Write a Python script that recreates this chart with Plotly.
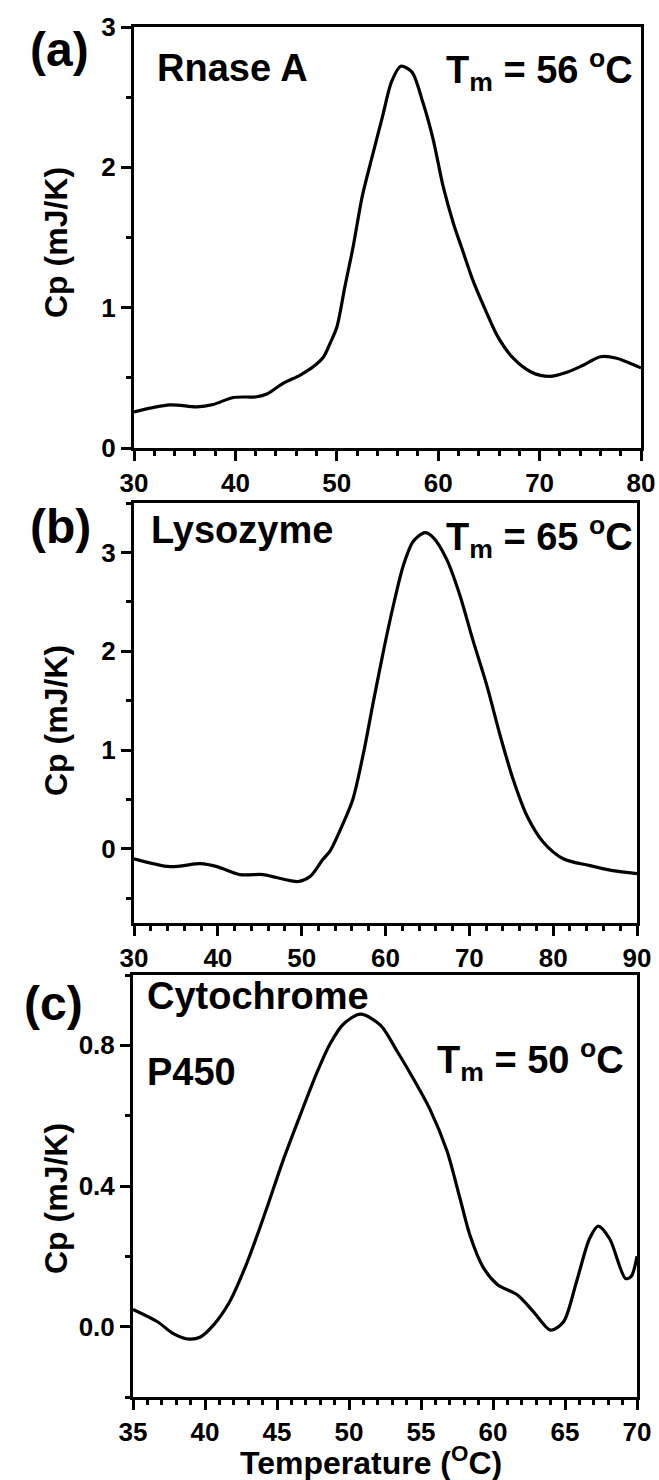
import plotly.graph_objects as go

# ---- data ----
a_temp = [30, 33.5, 36.2, 37.8, 39.8, 42.1, 43.1, 44.7, 46.4, 47.7, 48.7, 49.3, 50.0, 50.8, 51.6,
          52.5, 53.5, 54.5, 55.4, 56.3, 57.4, 58.5, 59.5, 60.5, 61.5, 62.3, 63.5, 64.8, 65.9,
          67.4, 69.2, 71.0, 72.7, 74.3, 76.0, 77.6, 79.7, 80]
a_cp = [0.257, 0.307, 0.293, 0.31, 0.36, 0.365, 0.385, 0.46, 0.52, 0.58, 0.65, 0.74, 0.86, 1.15, 1.43,
        1.79, 2.08, 2.36, 2.61, 2.72, 2.68, 2.46, 2.2, 1.86, 1.6, 1.43, 1.18, 0.96, 0.79,
        0.64, 0.54, 0.51, 0.54, 0.59, 0.65, 0.64, 0.58, 0.57]

b_temp = [30, 34.3, 37.9, 39.9, 42.6, 45.4, 47.0, 49.6, 51.0, 52.5, 53.4, 54.8, 56.1, 57.4, 58.6, 59.8,
          60.9, 62.1, 63.3, 64.7, 65.7, 67.3, 68.9, 70.4, 72.1, 73.7, 75.2, 76.9, 78.8, 81.2,
          84.4, 87.1, 90]
b_cp = [-0.10, -0.18, -0.15, -0.18, -0.26, -0.26, -0.29, -0.33, -0.28, -0.11, -0.02, 0.23, 0.5, 0.98, 1.51, 2.02,
        2.45, 2.86, 3.11, 3.20, 3.15, 2.93, 2.56, 2.12, 1.65, 1.14, 0.71, 0.33, 0.07, -0.10,
        -0.17, -0.22, -0.25]

c_temp = [35, 36.7, 37.8, 38.8, 39.65, 40.6, 41.7, 42.9, 43.8, 44.4, 45.4, 46.6, 47.8, 48.7, 49.6,
          50.8, 52.2, 53.3, 54.4, 55.6, 56.8, 57.7, 58.4, 59.3, 60.3, 61.7, 62.8, 64.0, 64.9,
          65.8, 66.7, 67.3, 68.1, 69.2, 69.6, 70]
c_cp = [0.049, 0.014, -0.02, -0.035, -0.03, 0.005, 0.07, 0.18, 0.28, 0.35, 0.47, 0.6, 0.725, 0.805, 0.86,
        0.889, 0.857, 0.786, 0.71, 0.62, 0.50, 0.366, 0.26, 0.17, 0.12, 0.09, 0.043, -0.01, 0.014,
        0.128, 0.25, 0.286, 0.25, 0.137, 0.143, 0.2]

W, H = 659, 1480
FONT = "Liberation Sans, Arial, sans-serif"


def px_x(p):
    return p / W


def px_y(p):
    return 1 - p / H


fig = go.Figure()
for i, (xs, ys) in enumerate([(a_temp, a_cp), (b_temp, b_cp), (c_temp, c_cp)], start=1):
    fig.add_trace(go.Scatter(x=xs, y=ys, mode="lines",
                             line=dict(color="black", width=3.2, shape="spline", smoothing=0.8),
                             xaxis=f"x{i}" if i > 1 else "x", yaxis=f"y{i}" if i > 1 else "y",
                             showlegend=False, hoverinfo="skip"))

common = dict(showline=True, linecolor="black", linewidth=3, mirror=True, showgrid=False,
              zeroline=False, ticks="outside", ticklen=10, tickwidth=3, tickcolor="black",
              automargin=False,
              tickfont=dict(family=FONT, size=26, color="black", weight="bold"))


def minor(d):
    return dict(ticks="outside", ticklen=5, tickwidth=2.5, tickcolor="black", dtick=d, showgrid=False)


panels = [
    ((134, 641), (27, 448), [30, 80], 10, 2, [0, 3], [0, 1, 2, 3], 0.5, "d"),
    ((134, 637), (503, 923), [30, 90], 10, 2, [-0.75, 3.5], [0, 1, 2, 3], 0.5, "d"),
    ((133, 637), (975, 1397), [35, 70], 5, 1, [-0.2, 1.0], [0.0, 0.4, 0.8], 0.2, ".1f"),
]

layout = {}
for i, (xd, yd, xr, xdt, xmn, yr, ytv, ymn, yfmt) in enumerate(panels, start=1):
    sx = "" if i == 1 else str(i)
    layout[f"xaxis{sx}"] = dict(common, domain=[px_x(xd[0]), px_x(xd[1])], range=xr,
                                dtick=xdt, tick0=0, minor=minor(xmn),
                                anchor=f"y{sx}")
    layout[f"yaxis{sx}"] = dict(common, domain=[px_y(yd[1]), px_y(yd[0])], range=yr,
                                tickvals=ytv, tickformat=yfmt, minor=dict(minor(ymn), tick0=0),
                                anchor=f"x{sx}")

fig.update_layout(**layout)


def ann(text, x, y, size, xanchor="left", yanchor="middle", angle=0):
    fig.add_annotation(text=text, x=px_x(x), y=px_y(y), xref="paper", yref="paper",
                       xanchor=xanchor, yanchor=yanchor, showarrow=False, textangle=angle,
                       font=dict(family=FONT, size=size, color="black", weight="bold"))


ann("(a)", 28, 50, 48)
ann("(b)", 28, 526, 48)
ann("(c)", 22, 1003, 48)

ann("Rnase A", 155, 68, 38)
ann("T<sub>m</sub> = 56 <sup>o</sup>C", 635, 70, 38, xanchor="right")
ann("Lysozyme", 149, 530, 38)
ann("T<sub>m</sub> = 65 <sup>o</sup>C", 635, 537, 38, xanchor="right")
ann("Cytochrome", 145, 996, 38)
ann("P450", 145, 1072, 38)
ann("T<sub>m</sub> = 50 <sup>o</sup>C", 626, 1060, 38, xanchor="right")

for yc in (243, 721, 1199):
    ann("Cp (mJ/K)", 56, yc, 32, xanchor="center", angle=-90)

ann("Temperature (<sup>O</sup>C)", 371, 1461, 32, xanchor="center")

fig.update_layout(width=W, height=H, margin=dict(l=0, r=0, t=0, b=0, autoexpand=False),
                  paper_bgcolor="white", plot_bgcolor="white")

fig.write_html("out.html")
